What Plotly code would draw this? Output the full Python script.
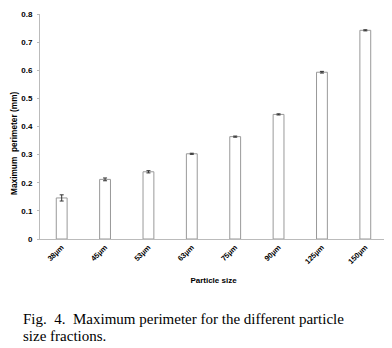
import plotly.graph_objects as go

categories = ["38µm", "45µm", "53µm", "63µm", "75µm", "90µm", "125µm", "150µm"]
values = [0.146, 0.212, 0.239, 0.303, 0.364, 0.443, 0.593, 0.742]
errors = [0.011, 0.005, 0.004, 0.002, 0.002, 0.002, 0.003, 0.002]
y_ticks = [0, 0.1, 0.2, 0.3, 0.4, 0.5, 0.6, 0.7, 0.8]
y_tick_labels = ["0", "0.1", "0.2", "0.3", "0.4", "0.5", "0.6", "0.7", "0.8"]

fig = go.Figure(go.Bar(
    x=categories, y=values,
    marker=dict(color="white", line=dict(color="#999999", width=1)),
    error_y=dict(type="data", array=errors, color="#333333", thickness=1, width=2),
    width=0.25,
))

fig.update_layout(
    width=384, height=340,
    margin=dict(l=32, r=5, t=2, b=109),
    paper_bgcolor="white", plot_bgcolor="white",
    showlegend=False,
    font=dict(family="Liberation Sans", color="black"),
)
fig.update_xaxes(
    range=[-0.5, 7.5], showline=True, linecolor="#bbbbbb", linewidth=1,
    tickangle=-45, tickfont=dict(size=7.5, family="Liberation Sans", weight="bold"),
    ticks="", showgrid=False,
    title=dict(text="<b>Particle size</b>", font=dict(size=8), standoff=12),
)
fig.update_yaxes(
    range=[0, 0.8], showline=True, linecolor="#bbbbbb", linewidth=1,
    tickvals=y_ticks, ticktext=y_tick_labels,
    ticks="outside", ticklen=2, tickcolor="#bbbbbb", tickwidth=1,
    showgrid=False, zeroline=False, ticklabeloverflow="allow",
    tickfont=dict(size=8, family="Liberation Sans", weight="bold"),
    ticklabelstandoff=3,
)

fig.add_annotation(
    text="<b>Maximum  perimeter (mm)</b>", textangle=-90,
    xref="paper", yref="paper", x=-0.077, y=0.428, xanchor="center", yanchor="middle",
    showarrow=False, font=dict(family="Liberation Sans", size=8.3, color="black"),
)
fig.add_annotation(
    text="Fig.  4.  Maximum perimeter for the different particle",
    xref="paper", yref="paper", x=-0.055, y=-0.354, xanchor="left", yanchor="middle",
    showarrow=False, font=dict(family="Liberation Serif", size=15, color="black"),
)
fig.add_annotation(
    text="size fractions.",
    xref="paper", yref="paper", x=-0.055, y=-0.43, xanchor="left", yanchor="middle",
    showarrow=False, font=dict(family="Liberation Serif", size=15, color="black"),
)

fig.write_html("out.html")
